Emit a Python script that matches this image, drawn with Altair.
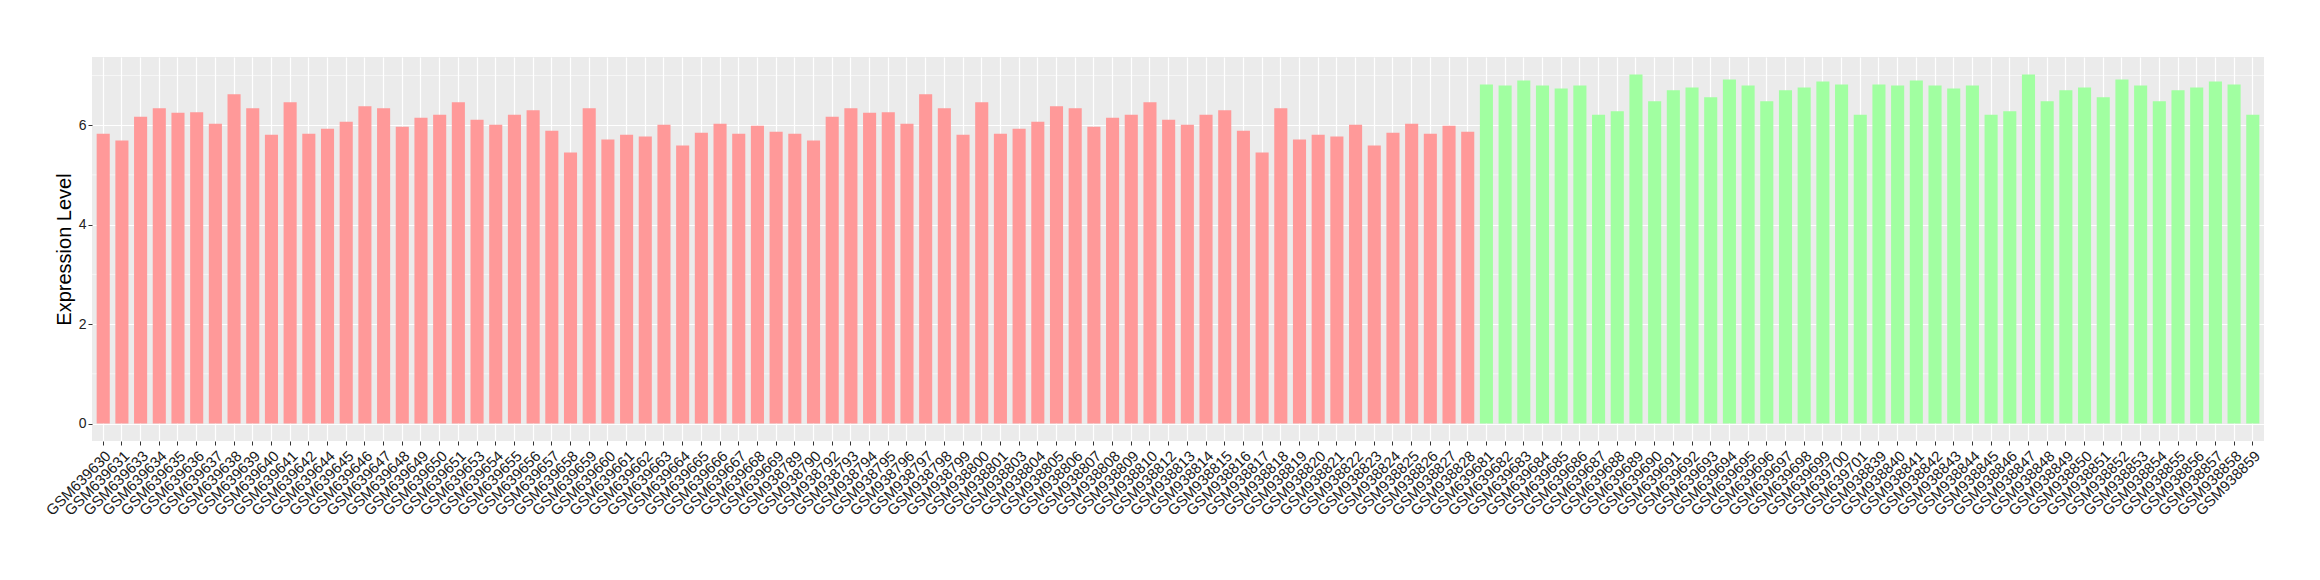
import altair as alt
import pandas as pd

# ---- categories ----
red_ids_1 = ["GSM639630", "GSM639631", "GSM639633", "GSM639634", "GSM639635", "GSM639636",
             "GSM639637", "GSM639638", "GSM639639", "GSM639640", "GSM639641", "GSM639642",
             "GSM639644", "GSM639645", "GSM639646", "GSM639647", "GSM639648", "GSM639649",
             "GSM639650", "GSM639651", "GSM639653", "GSM639654", "GSM639655", "GSM639656",
             "GSM639657", "GSM639658", "GSM639659", "GSM639660", "GSM639661", "GSM639662",
             "GSM639663", "GSM639664", "GSM639665", "GSM639666", "GSM639667", "GSM639668",
             "GSM639669"]
red_ids_2 = ["GSM938789", "GSM938790", "GSM938792", "GSM938793", "GSM938794", "GSM938795",
             "GSM938796", "GSM938797", "GSM938798", "GSM938799", "GSM938800", "GSM938801",
             "GSM938803", "GSM938804", "GSM938805", "GSM938806", "GSM938807", "GSM938808",
             "GSM938809", "GSM938810", "GSM938812", "GSM938813", "GSM938814", "GSM938815",
             "GSM938816", "GSM938817", "GSM938818", "GSM938819", "GSM938820", "GSM938821",
             "GSM938822", "GSM938823", "GSM938824", "GSM938825", "GSM938826", "GSM938827",
             "GSM938828"]
green_ids_1 = ["GSM639681", "GSM639682", "GSM639683", "GSM639684", "GSM639685", "GSM639686",
               "GSM639687", "GSM639688", "GSM639689", "GSM639690", "GSM639691", "GSM639692",
               "GSM639693", "GSM639694", "GSM639695", "GSM639696", "GSM639697", "GSM639698",
               "GSM639699", "GSM639700", "GSM639701"]
green_ids_2 = ["GSM938839", "GSM938840", "GSM938841", "GSM938842", "GSM938843", "GSM938844",
               "GSM938845", "GSM938846", "GSM938847", "GSM938848", "GSM938849", "GSM938850",
               "GSM938851", "GSM938852", "GSM938853", "GSM938854", "GSM938855", "GSM938856",
               "GSM938857", "GSM938858", "GSM938859"]

# ---- values ----
red_vals_1 = [5.83, 5.69, 6.17, 6.34, 6.25, 6.26, 6.03, 6.62, 6.34, 5.81, 6.46, 5.83,
              5.93, 6.07, 6.38, 6.34, 5.97, 6.15, 6.21, 6.46, 6.11, 6.01, 6.21, 6.30,
              5.89, 5.45, 6.34, 5.71, 5.81, 5.77, 6.01, 5.59, 5.85, 6.03, 5.83, 5.99,
              5.87]
red_vals_2 = [5.83, 5.69, 6.17, 6.34, 6.25, 6.26, 6.03, 6.62, 6.34, 5.81, 6.46, 5.83,
              5.93, 6.07, 6.38, 6.34, 5.97, 6.15, 6.21, 6.46, 6.11, 6.01, 6.21, 6.30,
              5.89, 5.45, 6.34, 5.71, 5.81, 5.77, 6.01, 5.59, 5.85, 6.03, 5.83, 5.99,
              5.87]
green_vals_1 = [6.82, 6.80, 6.90, 6.80, 6.74, 6.80, 6.21, 6.28, 7.02, 6.48, 6.70, 6.76,
                6.56, 6.92, 6.80, 6.48, 6.70, 6.76, 6.88, 6.82, 6.21]
green_vals_2 = [6.82, 6.80, 6.90, 6.80, 6.74, 6.80, 6.21, 6.28, 7.02, 6.48, 6.70, 6.76,
                6.56, 6.92, 6.80, 6.48, 6.70, 6.76, 6.88, 6.82, 6.21]

y_ticks = [0, 2, 4, 6]
y_minor = [1, 3, 5, 7]
group_names = ["A", "B"]
group_colors = ["#FF9999", "#A1FFA1"]

samples = red_ids_1 + red_ids_2 + green_ids_1 + green_ids_2
values = red_vals_1 + red_vals_2 + green_vals_1 + green_vals_2
groups = (["A"] * (len(red_ids_1) + len(red_ids_2))
          + ["B"] * (len(green_ids_1) + len(green_ids_2)))

df = pd.DataFrame({"sample": samples, "value": values, "group": groups})
minor_df = pd.DataFrame({"value": y_minor})

FONT = "Liberation Sans"
W, H = 2172, 384

y_scale = alt.Scale(domain=[-0.351, 7.371], nice=False, zero=False)
y_axis = alt.Axis(
    values=y_ticks, title="Expression Level", titleFontSize=20, titleFontWeight="normal",
    titleColor="#000000", titleFont=FONT, titleX=-22, titleY=H / 2, titleAngle=270,
    titleAlign="center", titleBaseline="alphabetic",
    labelFontSize=14, labelColor="#222222", labelFont=FONT, labelPadding=2,
    tickSize=4, tickColor="#333333", tickWidth=1, domain=False,
    grid=True, gridColor="#FFFFFF", gridWidth=1.2,
)

minor_rules = alt.Chart(minor_df).mark_rule(color="#FFFFFF", strokeWidth=0.6).encode(
    y=alt.Y("value:Q", scale=y_scale, axis=y_axis)
)

bars = alt.Chart(df).mark_bar().encode(
    x=alt.X(
        "sample:N", sort=samples,
        scale=alt.Scale(paddingInner=0.3, paddingOuter=0.25),
        axis=alt.Axis(
            title=None, labelAngle=-45, labelAlign="right", labelBaseline="top",
            labelFontSize=15, labelColor="#1A1A1A", labelFont=FONT, labelPadding=3,
            labelOverlap=False, labelLimit=0,
            tickSize=4, tickColor="#333333", tickWidth=1, domain=False,
            grid=True, gridColor="#FFFFFF", gridWidth=1.2, bandPosition=0.5,
        ),
    ),
    y=alt.Y("value:Q", scale=y_scale, axis=y_axis),
    y2=alt.datum(0),
    color=alt.Color("group:N", scale=alt.Scale(domain=group_names, range=group_colors),
                    legend=None),
)

chart = alt.layer(minor_rules, bars).properties(
    width=W, height=H,
    padding={"left": 84, "top": 49, "right": 40, "bottom": 120},
    autosize=alt.AutoSizeParams(type="none"),
    background="#FFFFFF",
).configure_view(fill="#EBEBEB", stroke=None)

chart.save("out.html", embed_options={"renderer": "svg", "actions": False})
